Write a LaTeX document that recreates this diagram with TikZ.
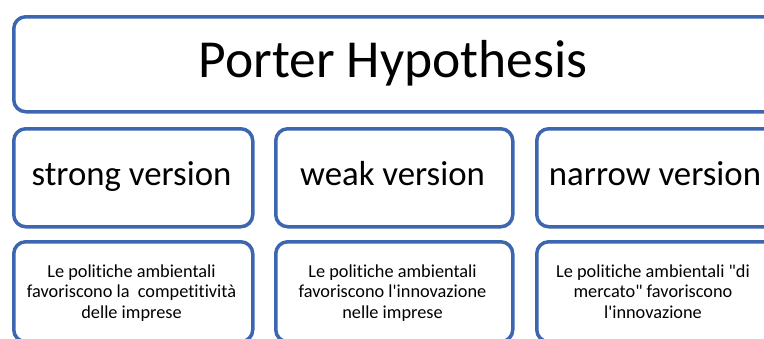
\documentclass[tikz,border=0pt]{standalone}
\usepackage{fontspec}
\newfontfamily\calfont{Carlito}[Ligatures=NoCommon]
\definecolor{boxblue}{RGB}{61,102,176}
\begin{document}
\begin{tikzpicture}[x=1pt,y=1pt,
  box/.style={draw=boxblue, line width=3.5pt, rounded corners=12pt, fill=white, inner sep=0pt, anchor=north west},
  big/.style={font=\calfont\fontsize{53.5}{60}\selectfont, anchor=base, inner sep=0pt},
  mid/.style={font=\calfont\fontsize{34.8}{40}\selectfont, anchor=base, inner sep=0pt},
  small/.style={font=\calfont\fontsize{18.3}{20.2}\selectfont, anchor=base, inner sep=0pt, align=center}]
\useasboundingbox (0,0) rectangle (764,-338);
\clip (0,0) rectangle (764,-338);
% top box
\node[box, minimum width=764pt, minimum height=95pt] (title) at (12,-15) {};
\node[big] (titletext) at (393,-77) {Porter Hypothesis};
% row 2
\node[box, minimum width=239pt, minimum height=98pt] (s) at (12,-127) {};
\node[box, minimum width=237pt, minimum height=98pt] (w) at (274,-127) {};
\node[box, minimum width=241pt, minimum height=98pt] (n) at (535,-127) {};
\node[mid] (stext) at (131.5,-185) {strong version};
\node[mid] (wtext) at (392.5,-185) {weak version};
\node[mid] (ntext) at (655,-185) {narrow version};
% row 3
\node[box, minimum width=239pt, minimum height=100pt] (s3) at (12,-240) {};
\node[box, minimum width=237pt, minimum height=100pt] (w3) at (274,-240) {};
\node[box, minimum width=241pt, minimum height=100pt] (n3) at (535,-240) {};
\node[small] (s3t) at (131.5,-318) {Le politiche ambientali\\favoriscono la\ \ competitività\\delle imprese};
\node[small] (w3t) at (392.5,-318) {Le politiche ambientali\\favoriscono l'innovazione\\nelle imprese};
\node[small] (n3t) at (653,-318) {Le politiche ambientali "di\\mercato" favoriscono\\l'innovazione};
\end{tikzpicture}
\end{document}
